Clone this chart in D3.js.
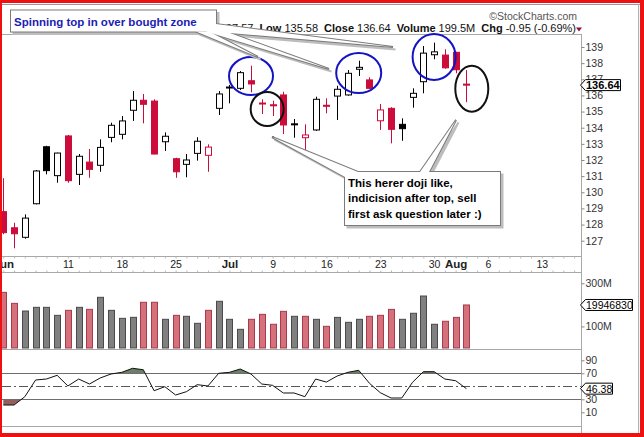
<!DOCTYPE html>
<html>
<head>
<meta charset="utf-8">
<script src="https://cdn.jsdelivr.net/npm/d3@7"></script>
<style>
  body { margin: 0; background: #fff; }
  svg { display: block; font-family: "Liberation Sans", Arial, sans-serif; }
</style>
</head>
<body>
<svg id="chart"></svg>
<script>
// SPY daily, Jun 1 - Aug 2 2012
const dates = [
  '2012-06-01', '2012-06-04', '2012-06-05', '2012-06-06', '2012-06-07', '2012-06-08',
  '2012-06-11', '2012-06-12', '2012-06-13', '2012-06-14', '2012-06-15',
  '2012-06-18', '2012-06-19', '2012-06-20', '2012-06-21', '2012-06-22',
  '2012-06-25', '2012-06-26', '2012-06-27', '2012-06-28', '2012-06-29',
  '2012-07-02', '2012-07-03', '2012-07-05', '2012-07-06',
  '2012-07-09', '2012-07-10', '2012-07-11', '2012-07-12', '2012-07-13',
  '2012-07-16', '2012-07-17', '2012-07-18', '2012-07-19', '2012-07-20',
  '2012-07-23', '2012-07-24', '2012-07-25', '2012-07-26', '2012-07-27',
  '2012-07-30', '2012-07-31', '2012-08-01', '2012-08-02'
];
// empty slots to the right of the last bar
const futureDates = [
  '2012-08-03', '2012-08-06', '2012-08-07', '2012-08-08', '2012-08-09',
  '2012-08-10', '2012-08-13', '2012-08-14', '2012-08-15', '2012-08-16'
];

const opens = [
  128.80, 127.80, 127.21, 129.29, 132.82, 131.03,
  133.49, 131.11, 131.87, 131.67, 133.40,
  133.59, 135.08, 135.70, 135.65, 133.13,
  132.08, 131.73, 132.41, 132.29, 135.20,
  136.52, 136.44, 136.91, 135.53,
  135.42, 136.03, 134.24, 133.38, 133.86,
  135.39, 135.96, 136.03, 137.62, 136.96,
  134.43, 135.20, 134.21, 135.88, 136.85,
  138.52, 138.50, 138.67, 136.70
];
const highs = [
  130.87, 128.11, 128.63, 131.38, 132.88, 132.45,
  133.55, 132.37, 132.68, 133.28, 134.31,
  134.72, 136.27, 136.09, 135.76, 133.71,
  132.14, 132.37, 133.41, 132.97, 136.27,
  136.65, 137.51, 137.84, 135.76,
  135.67, 136.23, 134.54, 134.21, 135.92,
  135.82, 136.60, 137.57, 138.15, 137.12,
  135.47, 135.27, 134.58, 136.44, 139.06,
  139.27, 138.86, 138.70, 137.57
];
const lows = [
  127.40, 126.53, 127.12, 129.25, 131.11, 130.59,
  130.59, 130.45, 130.90, 131.27, 133.10,
  133.28, 134.42, 134.27, 132.35, 132.56,
  130.90, 130.93, 131.96, 131.27, 134.79,
  135.51, 136.34, 136.19, 134.85,
  134.72, 133.61, 133.38, 132.57, 133.80,
  134.89, 134.48, 135.98, 137.20, 136.40,
  133.86, 133.03, 133.19, 135.24, 136.13,
  138.24, 137.65, 137.37, 135.58
];
const closes = [
  127.50, 127.43, 128.40, 131.32, 131.34, 132.43,
  130.72, 132.23, 131.42, 132.78, 134.15,
  134.42, 135.70, 135.45, 132.37, 133.47,
  131.27, 132.00, 133.16, 132.80, 136.09,
  136.47, 137.41, 136.71, 135.50,
  135.39, 134.17, 134.20, 133.55, 135.76,
  135.36, 136.38, 137.37, 137.74, 136.44,
  135.10, 133.90, 133.94, 136.13, 138.62,
  138.70, 137.71, 137.59, 136.64
];
const priorClose = 130.90;

// volume in millions
const volumes = [
  258, 207, 171.5, 188.6, 188.6, 151.5,
  174.6, 188.6, 179.3, 235, 174.6,
  137.6, 142.2, 212, 212, 133,
  151.5, 147, 114.4, 174.6, 216.5,
  133, 86.6, 133, 156,
  110, 170, 147, 147, 133,
  100.6, 142, 119, 133, 147,
  151.5, 179, 133, 161, 241,
  110, 124, 142, 199.5
];
const rsi = [
  21.2, 21.2, 34, 59.7, 61.2, 66.9,
  50.5, 61.2, 53.5, 62.8, 68.9,
  71.5, 77.7, 75.5, 43.2, 49.4,
  36.6, 41.7, 52.5, 50.5, 70,
  71.5, 76.6, 68.9, 53.5,
  51.5, 39.7, 39.7, 34, 61.2,
  56.5, 65.8, 71.5, 74.6, 54.6,
  40.2, 32, 32, 56.2, 72.5,
  72.5, 61.2, 58.6, 46.38
];

const priceTicks = [127, 128, 129, 130, 131, 132, 133, 134, 135, 136, 137, 138, 139];
const volumeTicks = [100, 300];   // 200M sits under the last-value tag
const rsiTicks = [10, 30, 70, 90];
const dateTickDates = ['2012-06-01', '2012-06-11', '2012-06-18', '2012-06-25', '2012-07-02', '2012-07-09',
  '2012-07-16', '2012-07-23', '2012-07-30', '2012-08-01', '2012-08-06', '2012-08-13'];
const dateTickLabels = ['Jun', '11', '18', '25', 'Jul', '9', '16', '23', '30', 'Aug', '6', '13'];

// header strip; the part left of "137.57" is hidden by the callout box
const headerLabels = [null, 'Low', 'Close', 'Volume', 'Chg'];
const headerValues = ['137.57', '135.58', '136.64', '199.5M', '-0.95 (-0.69%)'];

const W = 644, H = 437;
const axisX = 581.5;
const plotLeft = 2;
const price = { top: 34, bottom: 256 };
const vol = { top: 272, bottom: 349 };
const osc = { top: 349, bottom: 426 };

const red = '#cc0c3a';
const black = '#000';

const svg = d3.select('#chart').attr('width', W).attr('height', H);

const x = d3.scalePoint()
  .domain(dates.concat(futureDates))
  .range([3.3, 3.3 + 53 * 10.77]);
const yPrice = d3.scaleLinear().domain([127, 139]).range([240.7, 47]);
const yVol = d3.scaleLinear().domain([0, 300]).range([348, 283.3]);
const yRsi = d3.scaleLinear().domain([30, 70]).range([399.3, 373.3]);

const px = v => Math.round(v) + 0.5;

const defs = svg.append('defs');
defs.append('clipPath').attr('id', 'clip-plot')
  .append('rect').attr('x', plotLeft).attr('y', 0).attr('width', axisX - plotLeft).attr('height', H);
defs.append('clipPath').attr('id', 'clip-ob')
  .append('rect').attr('x', plotLeft).attr('y', osc.top).attr('width', axisX - plotLeft).attr('height', yRsi(70) - osc.top);
defs.append('clipPath').attr('id', 'clip-os')
  .append('rect').attr('x', plotLeft).attr('y', yRsi(30)).attr('width', axisX - plotLeft).attr('height', osc.bottom - yRsi(30));

const bars = dates.map((d, i) => {
  const prev = i === 0 ? priorClose : closes[i - 1];
  return {
    date: d, o: opens[i], h: highs[i], l: lows[i], c: closes[i],
    v: volumes[i], r: rsi[i],
    down: closes[i] < prev,
    hollow: closes[i] >= opens[i]
  };
});

// panel frames
const frame = svg.append('g').attr('stroke', '#a8a8a8').attr('fill', 'none').attr('stroke-width', 1);
[price.top, price.bottom, vol.top, vol.bottom, osc.bottom].forEach(y => {
  frame.append('line').attr('x1', plotLeft).attr('x2', axisX).attr('y1', y + 0.5).attr('y2', y + 0.5);
});
frame.append('line').attr('x1', axisX).attr('x2', axisX).attr('y1', price.top).attr('y2', 433);

// day ticks along the date strip
svg.append('g').attr('transform', `translate(0,${price.bottom + 0.5})`)
  .call(d3.axisBottom(x).tickValues(x.domain()).tickSize(2).tickFormat(''))
  .call(g => g.select('.domain').remove())
  .call(g => g.selectAll('line').attr('stroke', '#b8b8b8'));
svg.append('g').attr('transform', `translate(0,${vol.top + 0.5})`)
  .call(d3.axisTop(x).tickValues(x.domain()).tickSize(2).tickFormat(''))
  .call(g => g.select('.domain').remove())
  .call(g => g.selectAll('line').attr('stroke', '#b8b8b8'));

// date labels
const labelOf = new Map(dateTickDates.map((d, i) => [d, dateTickLabels[i]]));
svg.append('g').attr('transform', `translate(0,${vol.top})`)
  .call(d3.axisTop(x).tickValues(dateTickDates).tickSize(0).tickPadding(4).tickFormat(d => labelOf.get(d)))
  .call(g => g.select('.domain').remove())
  .call(g => g.selectAll('text')
    .attr('fill', '#222')
    .attr('font-family', '"Liberation Sans", Arial, sans-serif')
    .attr('font-size', d => /^[A-Z]/.test(labelOf.get(d)) ? 11.5 : 10.5)
    .attr('font-weight', d => /^[A-Z]/.test(labelOf.get(d)) ? 'bold' : 'normal'));

const plot = svg.append('g').attr('clip-path', 'url(#clip-plot)');

// candles
const candle = plot.append('g').selectAll('g').data(bars).join('g');
candle.append('line')
  .attr('x1', d => px(x(d.date))).attr('x2', d => px(x(d.date)))
  .attr('y1', d => yPrice(d.h)).attr('y2', d => yPrice(d.l))
  .attr('stroke', d => d.down ? red : black);
candle.append('rect')
  .attr('x', d => Math.round(x(d.date)) - 3 + 0.5)
  .attr('width', 6)
  .attr('y', d => yPrice(Math.max(d.o, d.c)))
  .attr('height', d => Math.max(1, Math.abs(yPrice(d.o) - yPrice(d.c))))
  .attr('fill', d => d.hollow ? '#fff' : (d.down ? red : black))
  .attr('stroke', d => d.down ? red : black);

// volume
plot.append('g').selectAll('rect').data(bars).join('rect')
  .attr('x', d => Math.round(x(d.date)) - 3 + 0.5)
  .attr('width', 6)
  .attr('y', d => yVol(d.v))
  .attr('height', d => yVol(0) - yVol(d.v))
  .attr('fill', d => d.down ? '#d5717b' : '#808080')
  .attr('stroke', d => d.down ? '#a73a4c' : '#4a4a4a');

// RSI
const rsiLine = d3.line().x(d => x(d.date)).y(d => yRsi(d.r));
plot.append('path').datum(bars).attr('clip-path', 'url(#clip-ob)')
  .attr('d', d3.area().x(d => x(d.date)).y0(yRsi(70)).y1(d => yRsi(d.r)))
  .attr('fill', '#6a7f63');
plot.append('path').datum(bars).attr('clip-path', 'url(#clip-os)')
  .attr('d', d3.area().x(d => x(d.date)).y0(yRsi(30)).y1(d => yRsi(d.r)))
  .attr('fill', '#955e5e');
[70, 30].forEach(v => {
  plot.append('line').attr('x1', plotLeft).attr('x2', axisX)
    .attr('y1', px(yRsi(v))).attr('y2', px(yRsi(v))).attr('stroke', '#6e6e6e');
});
plot.append('line').attr('x1', plotLeft).attr('x2', axisX)
  .attr('y1', px(yRsi(50))).attr('y2', px(yRsi(50)))
  .attr('stroke', '#5a5a5a').attr('stroke-dasharray', '9,3,2,3');
plot.append('path').datum(bars).attr('d', rsiLine)
  .attr('fill', 'none').attr('stroke', '#111').attr('stroke-width', 1);

// right axes
function styleAxis(g) {
  g.select('.domain').remove();
  g.selectAll('line').attr('stroke', '#888');
  g.selectAll('text').attr('fill', '#333')
    .attr('font-family', '"Liberation Sans", Arial, sans-serif').attr('font-size', 10.5);
}
svg.append('g').attr('transform', `translate(${axisX},0)`)
  .call(d3.axisRight(yPrice).tickValues(priceTicks).tickSize(3).tickPadding(1).tickFormat(d3.format('d')))
  .call(styleAxis);
svg.append('g').attr('transform', `translate(${axisX},0)`)
  .call(d3.axisRight(yVol).tickValues(volumeTicks).tickSize(3).tickPadding(1).tickFormat(d => d + 'M'))
  .call(styleAxis);
svg.append('g').attr('transform', `translate(${axisX},0)`)
  .call(d3.axisRight(yRsi).tickValues(rsiTicks).tickSize(3).tickPadding(1).tickFormat(d3.format('d')))
  .call(styleAxis);

// last-value tags on the axis
function tag(y, text, width, opts) {
  const g = svg.append('g');
  const x0 = axisX - 1, x1 = axisX + 4, x2 = axisX + width;
  g.append('path')
    .attr('d', `M${x0},${y}L${x1},${y - 5.5}H${x2}V${y + 5.5}H${x1}Z`)
    .attr('fill', '#fff').attr('stroke', '#000');
  const cid = 'tag' + Math.round(y);
  defs.append('clipPath').attr('id', cid)
    .append('rect').attr('x', x1).attr('y', y - 6).attr('width', x2 - x1).attr('height', 12);
  g.append('text').attr('x', x1 + 0.5).attr('y', y + 4)
    .attr('clip-path', `url(#${cid})`)
    .attr('font-size', opts.size).attr('font-weight', opts.bold ? 'bold' : 'normal')
    .attr('fill', '#000').text(text);
}
const last = bars[bars.length - 1];
tag(yPrice(last.c), d3.format('.2f')(last.c), 39, { size: 11, bold: true });
tag(yVol(last.v), '199468300', 51, { size: 10.5 });
tag(yRsi(last.r), d3.format('.2f')(last.r), 31, { size: 10.5 });

// header line
const header = svg.append('text')
  .attr('x', 573).attr('y', 31.5).attr('text-anchor', 'end')
  .attr('font-size', 11).attr('fill', '#111');
headerLabels.forEach((lab, i) => {
  if (lab) header.append('tspan').attr('font-weight', 'bold').attr('dx', 6).text(lab);
  header.append('tspan').attr('dx', 3).text(headerValues[i]);
});
svg.append('path').attr('d', 'M576,27.5H582L579,31.5Z').attr('fill', '#8a1538');
svg.append('text').attr('x', 577).attr('y', 20).attr('text-anchor', 'end')
  .attr('font-size', 10.5).attr('fill', '#555').text('\u00a9StockCharts.com');

// annotation ellipses, placed in data units (bar index, price)
const rings = [
  { at: 23.0, p: 137.2, rx: 22, ry: 19, color: '#1414c4' },
  { at: 33.0, p: 137.39, rx: 22.5, ry: 20, color: '#1414c4' },
  { at: 40.0, p: 138.38, rx: 21.5, ry: 23, color: '#1414c4' },
  { at: 24.5, p: 135.16, rx: 16.5, ry: 17, color: '#111' },
  { at: 43.5, p: 136.42, rx: 16.5, ry: 23, color: '#111' }
];
const step = x.step();
svg.append('g').selectAll('ellipse').data(rings).join('ellipse')
  .attr('cx', d => x.range()[0] + d.at * step)
  .attr('cy', d => yPrice(d.p))
  .attr('rx', d => d.rx).attr('ry', d => d.ry)
  .attr('fill', 'none').attr('stroke', d => d.color).attr('stroke-width', 2);

// callouts
function callout(box, pointers, lines, color) {
  const g = svg.append('g');
  const shapes = [
    `M${box.x},${box.y}H${box.x + box.w}V${box.y + box.h}H${box.x}Z`,
    ...pointers.map(p => `M${p[0][0]},${p[0][1]}L${p[1][0]},${p[1][1]}L${p[2][0]},${p[2][1]}Z`)
  ];
  g.selectAll('.sh').data(shapes).join('path').attr('class', 'sh')
    .attr('d', d => d).attr('transform', 'translate(2.5,2.5)')
    .attr('fill', '#bdbdbd').attr('stroke', '#bdbdbd').attr('stroke-width', 2);
  g.selectAll('.ol').data(shapes).join('path').attr('class', 'ol')
    .attr('d', d => d).attr('fill', 'none').attr('stroke', '#7a7a7a').attr('stroke-width', 2);
  g.selectAll('.fl').data(shapes).join('path').attr('class', 'fl')
    .attr('d', d => d).attr('fill', '#fff');
  g.selectAll('text').data(lines).join('text')
    .attr('x', box.x + 3).attr('y', (d, i) => box.y + box.tx + i * 15.8)
    .attr('font-size', 11.5).attr('font-weight', 'bold').attr('fill', color)
    .text(d => d);
}
callout({ x: 11, y: 10.5, w: 205, h: 21, tx: 15 },
  [
    [[196, 31.5], [209, 31.5], [258, 57]],
    [[206, 31.5], [216, 28], [329, 69]],
    [[212, 31.5], [216, 24], [393, 47]]
  ],
  ['Spinning top in over bought zone'], '#1c1cb4');
callout({ x: 345, y: 172, w: 155, h: 53, tx: 14.5 },
  [
    [[345, 177], [358, 172], [272, 137]],
    [[420, 172], [429, 172], [456, 120]]
  ],
  ['This herer doji like,', 'indicision after top, sell', 'first ask question later :)'], '#000');

// outer frame
svg.append('line').attr('x1', 2).attr('x2', 640).attr('y1', 4.5).attr('y2', 4.5).attr('stroke', '#9a9a9a');
svg.append('line').attr('x1', 638.5).attr('x2', 638.5).attr('y1', 4).attr('y2', 433).attr('stroke', '#b0b0b0');
const border = svg.append('g').attr('fill', '#ee1111');
border.append('rect').attr('x', 0).attr('y', 0).attr('width', W).attr('height', 3);
border.append('rect').attr('x', 0).attr('y', 433).attr('width', W).attr('height', 4);
border.append('rect').attr('x', 0).attr('y', 0).attr('width', 2).attr('height', H);
border.append('rect').attr('x', 640).attr('y', 0).attr('width', 4).attr('height', H);
</script>
</body>
</html>
